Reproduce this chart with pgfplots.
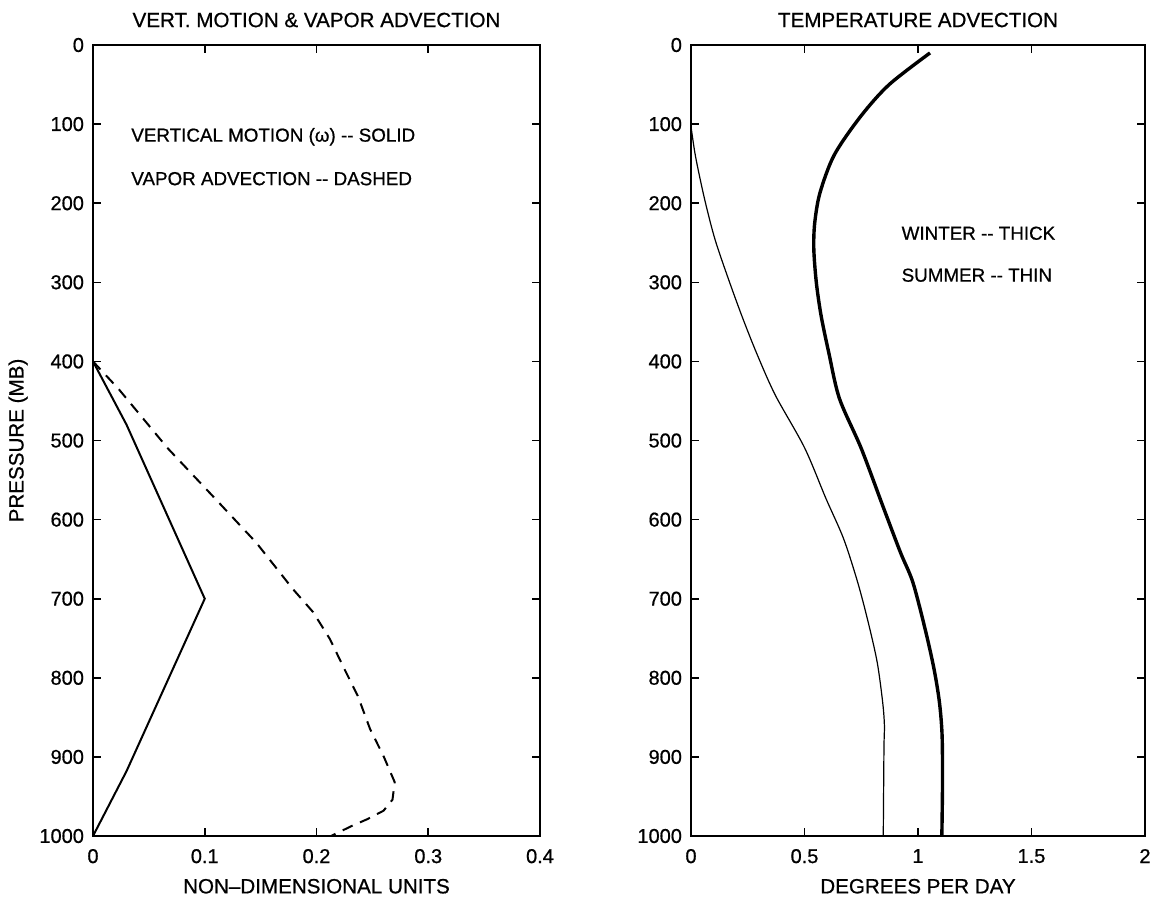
\documentclass[border=0pt]{standalone}
\usepackage{pgfplots}
\pgfplotsset{compat=1.18}
\usepackage{fontspec}
\setmainfont{Liberation Sans}[UprightFeatures={FakeBold=0.7}]
\begin{document}
\begin{tikzpicture}
\useasboundingbox (0,0) rectangle (576pt,448pt);
\pgfplotsset{
  every axis title shift=0pt,
  every axis/.append style={
    scale only axis,
    anchor=south west,
    height=395.5pt,
    y dir=reverse,
    ymin=0, ymax=1000,
    ytick={0,100,...,1000},
    yticklabels={0,100,200,300,400,500,600,700,800,900,1000},
    tick align=inside,
    major tick length=4pt,
    axis line style={line width=0.9pt},
    every tick/.style={line width=0.8pt,black},
    /pgf/number format/assume math mode=true,
    /pgf/number format/1000 sep={},
    tick label style={font=\fontsize{10}{11}\selectfont},
    xticklabel style={yshift=-3pt},
    yticklabel style={xshift=-1pt},
    label style={font=\fontsize{10.3}{11}\selectfont},
    title style={font=\fontsize{10.3}{11}\selectfont, at={(0.5,1)}, anchor=center, yshift=12.5pt},
    xlabel style={yshift=-1pt},
    clip=false,
  }
}
% Left panel
\begin{axis}[
  at={(46.5pt,30pt)},
  width=223.5pt,
  xmin=0, xmax=0.4,
  xtick={0,0.1,0.2,0.3,0.4},
  xticklabels={0,0.1,0.2,0.3,0.4},
  title={VERT. MOTION \& VAPOR ADVECTION},
  xlabel={NON--DIMENSIONAL UNITS},
  ylabel={PRESSURE (MB)},
  ylabel style={yshift=-1pt},
]
\addplot[black, line width=1pt] coordinates {
  (0,400) (0.03,480) (0.1,700) (0.03,918) (0,1000)
};
\addplot[black, line width=1pt, dash pattern=on 5.5pt off 4pt] coordinates {
  (0,400) (0.023,435) (0.067,510) (0.107,570) (0.146,629) (0.179,688)
  (0.197,717) (0.212,751) (0.225,789) (0.237,823) (0.248,865) (0.26,899)
  (0.27,932) (0.268,954) (0.26,968) (0.245,979) (0.232,987) (0.213,1000)
};
\node[anchor=west,font=\fontsize{9.4}{10}\selectfont] at (axis cs:0.028,116) {VERTICAL MOTION (ω) -{}- SOLID};
\node[anchor=west,font=\fontsize{9.4}{10}\selectfont] at (axis cs:0.028,169) {VAPOR ADVECTION -{}- DASHED};
\end{axis}
% Right panel
\begin{axis}[
  at={(345.5pt,30pt)},
  width=227pt,
  xmin=0, xmax=2,
  xtick={0,0.5,1,1.5,2},
  xticklabels={0,0.5,1,1.5,2},
  title={TEMPERATURE ADVECTION},
  xlabel={DEGREES PER DAY},
]
\addplot[black, line width=1.7pt, smooth, tension=0.5] coordinates {
  (1.053,10) (0.873,50) (0.748,90) (0.631,139) (0.568,187) (0.545,225)
  (0.541,258) (0.552,300) (0.573,342) (0.607,389) (0.654,447) (0.75,510)
  (0.844,582) (0.922,641) (0.977,679) (1.031,738) (1.07,788) (1.094,830)
  (1.106,872) (1.108,932) (1.105,1000)
};
\addplot[black, line width=0.6pt, smooth, tension=0.5] coordinates {
  (0,103) (0.02,141) (0.06,195) (0.106,246) (0.17,300) (0.23,347)
  (0.294,393) (0.372,443) (0.5,509) (0.594,573) (0.672,624) (0.734,679)
  (0.78,729) (0.82,780) (0.844,830) (0.852,860) (0.85,890) (0.847,1000)
};
\node[anchor=west,font=\fontsize{9.4}{10}\selectfont] at (axis cs:0.897,238) {WINTER -{}- THICK};
\node[anchor=west,font=\fontsize{9.4}{10}\selectfont] at (axis cs:0.897,291) {SUMMER -{}- THIN};
\end{axis}
\end{tikzpicture}
\end{document}
